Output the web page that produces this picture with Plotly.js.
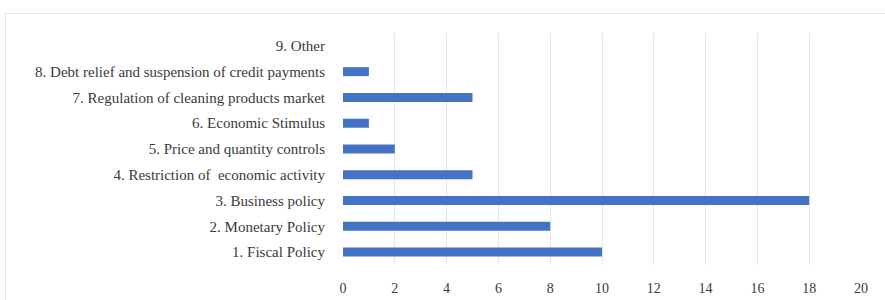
<!DOCTYPE html>
<html><head><meta charset="utf-8">
<script src="https://cdn.plot.ly/plotly-3.0.1.min.js"></script>
<style>
html,body{margin:0;padding:0;background:#fff;overflow:hidden;}
#frame{position:absolute;left:5px;top:13px;width:900px;height:300px;border:1px solid #e3e3e3;box-sizing:border-box;}
#chart{position:absolute;left:0;top:0;width:885px;height:300px;}
</style></head>
<body>
<div id="frame"></div>
<div id="chart"></div>
<script>
var categories = [
  "1. Fiscal Policy",
  "2. Monetary Policy",
  "3. Business policy",
  "4. Restriction of  economic activity",
  "5. Price and quantity controls",
  "6. Economic Stimulus",
  "7. Regulation of cleaning products market",
  "8. Debt relief and suspension of credit payments",
  "9. Other"
];
var values = [10, 8, 18, 5, 2, 1, 5, 1, 0];
var tickVals = [0, 2, 4, 6, 8, 10, 12, 14, 16, 18, 20];

var trace = {
  type: "bar",
  orientation: "h",
  y: categories,
  x: values,
  marker: {color: "#4472C4"},
  hoverinfo: "none"
};
var layout = {
  width: 885, height: 300,
  margin: {l: 343, r: 24, t: 33, b: 35},
  paper_bgcolor: "rgba(0,0,0,0)",
  plot_bgcolor: "rgba(0,0,0,0)",
  bargap: 0.65,
  showlegend: false,
  font: {family: "'Liberation Serif', 'DejaVu Serif', serif", color: "#3a3a3a", size: 15},
  xaxis: {
    range: [0, 20],
    tickvals: tickVals,
    showgrid: true,
    gridcolor: "#e6e6e6",
    gridwidth: 1,
    zeroline: false,
    showline: false,
    ticks: "outside",
    ticklen: 10,
    tickcolor: "rgba(0,0,0,0)",
    tickfont: {size: 14, color: "#3a3a3a"},
    fixedrange: true
  },
  yaxis: {
    type: "category",
    categoryorder: "array",
    categoryarray: categories,
    showgrid: false,
    zeroline: false,
    showline: false,
    ticks: "outside",
    ticklen: 14,
    tickcolor: "rgba(0,0,0,0)",
    tickfont: {size: 15, color: "#3a3a3a"},
    fixedrange: true
  }
};
Plotly.newPlot("chart", [trace], layout, {displayModeBar: false, staticPlot: true});
</script>
</body></html>
